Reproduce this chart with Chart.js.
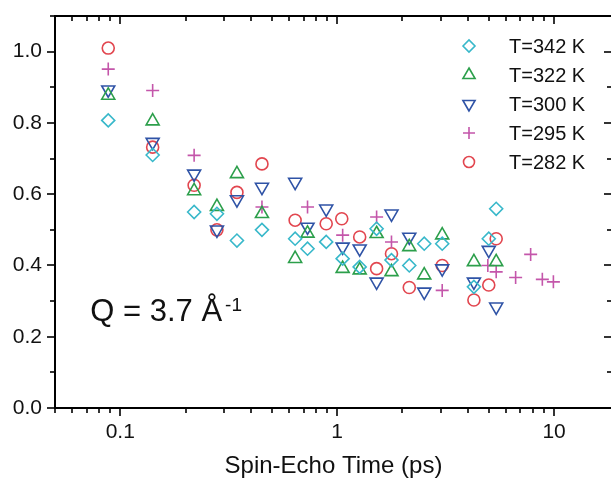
<!DOCTYPE html>
<html>
<head>
<meta charset="utf-8">
<script src="https://cdn.jsdelivr.net/npm/chart.js@4.4.0/dist/chart.umd.min.js"></script>
<style>
  html, body { margin: 0; padding: 0; background: #fff; overflow: hidden; }
  #wrap { width: 611px; height: 486px; overflow: hidden; }
</style>
</head>
<body>
<div id="wrap"><canvas id="c" width="614" height="486"></canvas></div>
<script>
// Spin-echo decay at Q = 3.7 Å^-1 for five temperatures

const seriesNames = ['T=342 K', 'T=322 K', 'T=300 K', 'T=295 K', 'T=282 K'];

const time342 = [0.088, 0.141, 0.219, 0.279, 0.345, 0.45, 0.64, 0.73, 0.89, 1.06, 1.27, 1.52, 1.78, 2.15, 2.52, 3.05, 4.27, 5.0, 5.41];
const echo342 = [0.807, 0.71, 0.55, 0.545, 0.47, 0.50, 0.475, 0.447, 0.466, 0.419, 0.396, 0.503, 0.415, 0.40, 0.461, 0.461, 0.34, 0.475, 0.559];

const time322 = [0.088, 0.141, 0.219, 0.279, 0.345, 0.45, 0.64, 0.73, 1.06, 1.27, 1.52, 1.78, 2.15, 2.52, 3.05, 4.27, 5.41];
const echo322 = [0.877, 0.805, 0.609, 0.565, 0.657, 0.545, 0.419, 0.49, 0.391, 0.387, 0.489, 0.382, 0.452, 0.373, 0.485, 0.41, 0.41];

const time300 = [0.088, 0.141, 0.219, 0.279, 0.345, 0.45, 0.64, 0.73, 0.89, 1.06, 1.27, 1.52, 1.78, 2.15, 2.52, 3.05, 4.27, 5.0, 5.41];
const echo300 = [0.893, 0.746, 0.657, 0.50, 0.585, 0.62, 0.634, 0.508, 0.559, 0.452, 0.447, 0.354, 0.545, 0.48, 0.326, 0.391, 0.354, 0.443, 0.284];

const time295 = [0.088, 0.141, 0.219, 0.45, 0.73, 1.06, 1.52, 1.78, 3.05, 4.95, 5.41, 6.65, 7.8, 8.83, 9.93];
const echo295 = [0.951, 0.891, 0.709, 0.564, 0.564, 0.485, 0.536, 0.466, 0.33, 0.40, 0.382, 0.366, 0.431, 0.361, 0.354];

const time282 = [0.088, 0.141, 0.219, 0.279, 0.345, 0.45, 0.64, 0.89, 1.05, 1.27, 1.52, 1.78, 2.15, 3.05, 4.27, 5.0, 5.41];
const echo282 = [1.01, 0.732, 0.625, 0.50, 0.605, 0.685, 0.527, 0.517, 0.531, 0.48, 0.391, 0.433, 0.338, 0.40, 0.303, 0.345, 0.475];

const xMajorLabels = [0.1, 1, 10];
const yMajorLabels = [0.0, 0.2, 0.4, 0.6, 0.8, 1.0];
const xRange = [0.05, 18.5];
const yRange = [0, 1.1];

const FONT = "'Liberation Sans', Arial, Helvetica, sans-serif";

const styles = [
  { color: '#38b8ca', pointStyle: 'rectRot', radius: 6.5, rotation: 0 },
  { color: '#2c9f4b', pointStyle: 'triangle', radius: 7.5, rotation: 0 },
  { color: '#2f53a6', pointStyle: 'triangle', radius: 7.5, rotation: 180 },
  { color: '#c456aa', pointStyle: 'cross', radius: 6.5, rotation: 0 },
  { color: '#e2464f', pointStyle: 'circle', radius: 6, rotation: 0 }
];

const times = [time342, time322, time300, time295, time282];
const echoes = [echo342, echo322, echo300, echo295, echo282];

const datasets = seriesNames.map((name, i) => ({
  label: name,
  data: times[i].map((t, k) => ({ x: t, y: echoes[i][k] })),
  borderColor: styles[i].color,
  backgroundColor: 'rgba(0,0,0,0)',
  pointStyle: styles[i].pointStyle,
  pointRadius: styles[i].radius,
  pointRotation: styles[i].rotation,
  pointBorderWidth: 1.6,
  pointHoverRadius: styles[i].radius,
  showLine: false,
  clip: false
}));

// log-axis minor ticks: 1..9 times each decade inside the range
function logTickValues(min, max) {
  const out = [];
  for (let e = -3; e <= 3; e++) {
    for (let m = 1; m <= 9; m++) {
      const v = parseFloat((m * Math.pow(10, e)).toPrecision(4));
      if (v >= min - 1e-9 && v <= max + 1e-9) out.push(v);
    }
  }
  return out;
}

// Box frame with outward ticks on left/bottom and inward ticks on top/right
const frameTicks = {
  id: 'frameTicks',
  afterDraw(chart) {
    const { ctx, chartArea: a, scales: { x, y } } = chart;
    ctx.save();
    ctx.strokeStyle = '#000';
    ctx.lineCap = 'butt';
    ctx.lineWidth = 1.6;
    const seg = (x1, y1, x2, y2) => { ctx.beginPath(); ctx.moveTo(x1, y1); ctx.lineTo(x2, y2); ctx.stroke(); };
    x.ticks.forEach(t => {
      const px = Math.round(x.getPixelForValue(t.value));
      const len = t.major ? 8 : 5;
      seg(px, a.bottom, px, a.bottom + len);
      seg(px, a.top, px, a.top + len);
    });
    y.ticks.forEach(t => {
      const py = Math.round(y.getPixelForValue(t.value));
      const len = t.major ? 8 : 5;
      seg(a.left - len, py, a.left, py);
      seg(a.right - len, py, a.right, py);
    });
    ctx.lineWidth = 2;
    ctx.strokeRect(a.left, a.top, a.right - a.left, a.bottom - a.top);
    ctx.restore();
  }
};

// Legend block and the Q annotation
const annotations = {
  id: 'annotations',
  afterDraw(chart) {
    const { ctx, chartArea: a, scales: { x, y } } = chart;
    const helpers = Chart.helpers;
    ctx.save();
    const markX = a.right - 143;
    const textX = a.right - 103;
    const rowY0 = a.top + 30;
    const rowGap = 29;
    seriesNames.forEach((name, i) => {
      const ry = rowY0 + i * rowGap;
      const s = styles[i];
      ctx.strokeStyle = s.color;
      ctx.fillStyle = 'rgba(0,0,0,0)';
      ctx.lineWidth = 1.6;
      helpers.drawPoint(ctx, { pointStyle: s.pointStyle, rotation: s.rotation, radius: s.radius - 0.5, borderWidth: 1.6 }, markX, ry);
      ctx.fillStyle = '#111';
      ctx.font = '20px ' + FONT;
      ctx.textBaseline = 'middle';
      ctx.textAlign = 'left';
      ctx.fillText(name, textX, ry + 1);
    });

    // Q = 3.7 Å^-1
    const qx = x.getPixelForValue(0.0727);
    const qy = y.getPixelForValue(0.244);
    ctx.fillStyle = '#111';
    ctx.textBaseline = 'alphabetic';
    ctx.font = '31px ' + FONT;
    const main = 'Q = 3.7 Å';
    ctx.fillText(main, qx, qy);
    const w = ctx.measureText(main).width;
    ctx.font = '19px ' + FONT;
    ctx.fillText('-1', qx + w + 3, qy - 10);
    ctx.restore();
  }
};

new Chart(document.getElementById('c'), {
  type: 'scatter',
  data: { datasets },
  options: {
    responsive: false,
    animation: false,
    devicePixelRatio: 1,
    layout: { autoPadding: false, padding: { top: 16, right: 2, bottom: 0, left: 0 } },
    plugins: { legend: { display: false }, tooltip: { enabled: false } },
    scales: {
      x: {
        type: 'logarithmic',
        min: xRange[0],
        max: xRange[1],
        afterBuildTicks(scale) {
          scale.ticks = logTickValues(xRange[0], xRange[1]).map(v => ({ value: v, major: xMajorLabels.includes(v) }));
        },
        afterFit(scale) {
          scale.height = 78;
          scale.paddingLeft = 0;
          scale.paddingRight = 0;
        },
        grid: { display: false, drawTicks: false },
        border: { display: false },
        ticks: {
          autoSkip: false,
          maxRotation: 0,
          padding: 12,
          color: '#111',
          font: { family: FONT, size: 21 },
          callback: (v) => xMajorLabels.includes(v) ? String(v) : ''
        },
        title: {
          display: true,
          text: 'Spin-Echo Time (ps)',
          color: '#111',
          font: { family: FONT, size: 24 },
          padding: { top: 0, bottom: 5 }
        }
      },
      y: {
        type: 'linear',
        min: yRange[0],
        max: yRange[1],
        afterBuildTicks(scale) {
          const vals = [];
          for (let k = 0; k <= 11; k++) vals.push(parseFloat((k / 10).toFixed(1)));
          scale.ticks = vals.map(v => ({ value: v, major: yMajorLabels.includes(v) }));
        },
        afterFit(scale) {
          scale.width = 55;
          scale.paddingTop = 0;
          scale.paddingBottom = 0;
        },
        grid: { display: false, drawTicks: false },
        border: { display: false },
        ticks: {
          autoSkip: false,
          padding: 13,
          color: '#111',
          font: { family: FONT, size: 21 },
          callback: (v) => yMajorLabels.includes(v) ? v.toFixed(1) : ''
        }
      }
    }
  },
  plugins: [frameTicks, annotations]
});
</script>
</body>
</html>
